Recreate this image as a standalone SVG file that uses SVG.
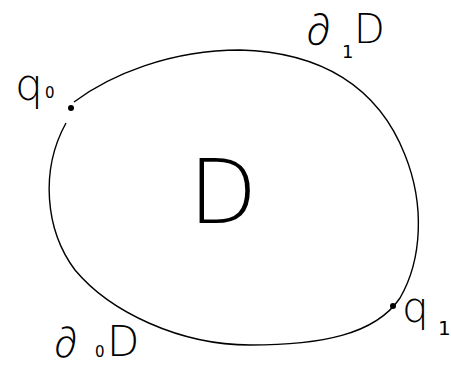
<svg xmlns="http://www.w3.org/2000/svg" width="451" height="366" viewBox="0 0 451 366">
<style>
.lbl{font-family:"DejaVu Sans","Liberation Sans",sans-serif;font-weight:200;fill:#000}
.del{font-family:"Noto Sans","Open Sans",Lato,Roboto,sans-serif;font-weight:300}
.sub{font-family:"DejaVu Sans","Liberation Sans",sans-serif;font-weight:normal}
.curve{fill:none;stroke:#000;stroke-width:1.4}
</style>
<rect width="451" height="366" fill="#fff"/>
<g id="connectors">
<path class="curve" d="M74,102 C110,75 170,50 240,50 C320,52 378,86 405,155 C425,205 422,260 400,298 C375,335 320,345 250,345 C180,345 110,312 75,270 C45,230 40,170 66,123"/>
</g>
<g id="region-D">
<text class="lbl" x="223" y="223" font-size="89" text-anchor="middle">D</text>
</g>
<g id="boundary-1">
<text class="lbl" font-size="42"><tspan class="del" x="306" y="45" font-size="44">∂</tspan><tspan class="sub" x="342" y="58" font-size="18">1</tspan><tspan x="354" y="43" font-size="40">D</tspan></text>
</g>
<g id="boundary-0">
<text class="lbl" font-size="42"><tspan class="del" x="54" y="357">∂</tspan><tspan class="sub" x="95" y="357" font-size="15">0</tspan><tspan x="107" y="356" font-size="42">D</tspan></text>
</g>
<g id="q0">
<circle cx="71" cy="108" r="3"/>
<text class="lbl" font-size="44"><tspan x="15" y="100">q</tspan><tspan class="sub" x="45" y="98" font-size="15">0</tspan></text>
</g>
<g id="q1">
<circle cx="393" cy="306" r="3"/>
<text class="lbl" font-size="42"><tspan x="402" y="322">q</tspan><tspan class="sub" x="438" y="335" font-size="20">1</tspan></text>
</g>
</svg>
